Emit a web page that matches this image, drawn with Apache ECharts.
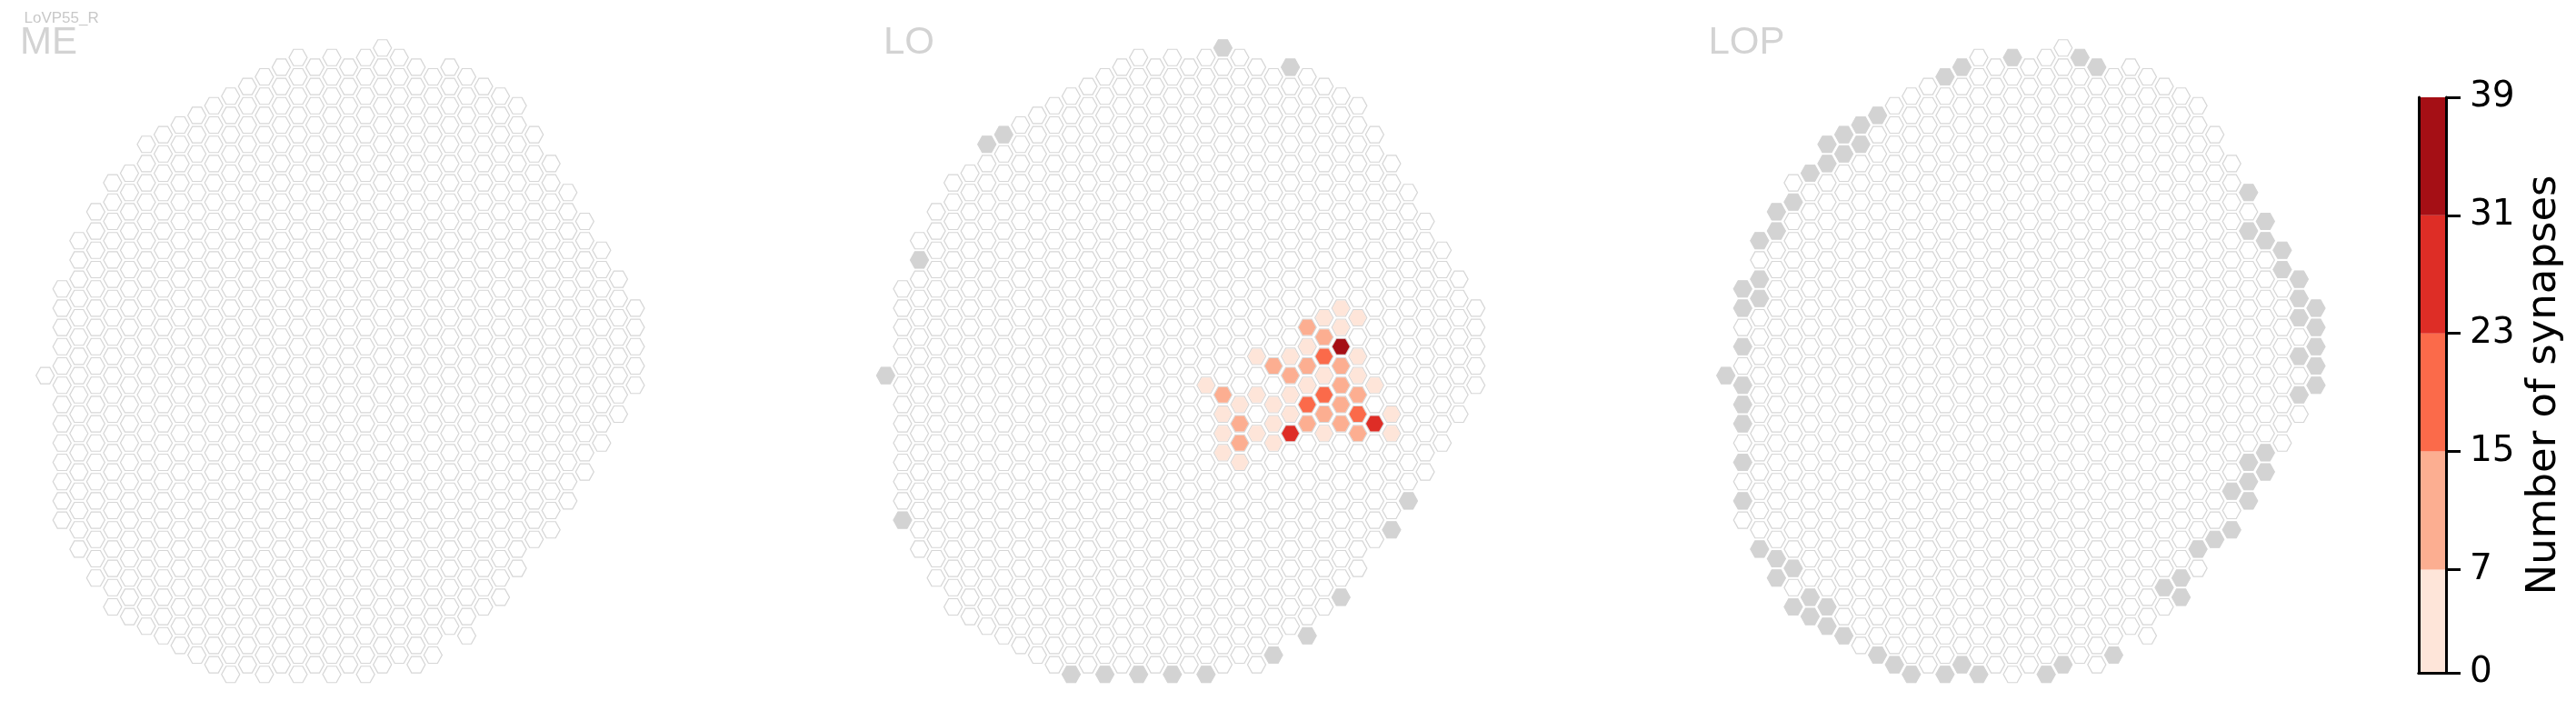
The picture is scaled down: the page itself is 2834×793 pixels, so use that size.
<!DOCTYPE html>
<html><head><meta charset="utf-8">
<script src="https://cdn.jsdelivr.net/npm/echarts@6/dist/echarts.min.js"></script>
<style>html,body{margin:0;padding:0;background:#fff}#c{width:2834px;height:793px}</style>
</head><body><div id="c"></div>
<script>
// ---- Column footprint shared by ME, LO, LOP (column index -> first / last half-row index)
const colTop    = [34,25,20,17,14,13,10, 9, 8, 7, 6, 5, 4, 3, 2, 1, 2, 1, 2, 1, 0, 1, 2, 3, 2, 3, 4, 5, 6, 9,12,15,18,21,24,27];
const colBottom = [34,49,52,55,58,59,60,61,62,63,64,65,64,65,64,65,64,65,64,65,64,63,64,63,60,61,58,57,54,51,50,47,44,41,38,35];

// ---- Region titles
const regionNames = ['ME', 'LO', 'LOP'];
const cellTypeName = 'LoVP55_R';

// ---- Columns drawn in grey (column, half-row)
const meGray = [];
const loGray = [[20,0],[24,2],[7,9],[6,10],[2,22],[0,34],[1,49],[31,47],[30,50],[27,57],[25,61],[23,63],
  [11,65],[13,65],[15,65],[17,65],[19,65]];
const lopGray = [[17,1],[21,1],[22,2],[14,2],[13,3],[9,7],[8,8],[7,9],[8,10],[6,10],[7,11],[6,12],[5,13],
  [4,16],[3,17],[3,19],[2,20],[2,24],[1,25],[2,26],[1,27],[1,31],[0,34],[1,35],[1,37],[1,39],[1,43],[1,47],
  [2,52],[3,53],[4,54],[3,55],[5,57],[4,58],[6,58],[5,59],[6,60],[7,61],[9,63],[10,64],[11,65],[13,65],
  [14,64],[15,65],[19,65],[20,64],[23,63],
  [31,15],[32,18],[31,19],[32,20],[33,21],[33,23],[34,24],[34,26],[35,27],[34,28],[35,29],[35,31],[34,32],
  [35,33],[35,35],[34,36],[32,42],[31,43],[32,44],[31,45],[30,46],[31,47],[30,50],[29,51],[28,52],[27,55],
  [26,56],[27,57]];

// ---- Synapse counts per column (column, half-row, count)
const meValues = [];
const loValues = [
  [27,27,4],[26,28,4],[28,28,4],[25,29,11],[27,29,4],[26,30,11],[25,31,4],[27,31,36],
  [22,32,4],[24,32,4],[26,32,19],[28,32,4],[23,33,11],[25,33,11],[27,33,11],
  [24,34,11],[26,34,4],[28,34,4],[19,35,4],[25,35,4],[27,35,11],[29,35,4],
  [20,36,11],[22,36,4],[24,36,4],[26,36,19],[28,36,11],
  [21,37,4],[23,37,4],[25,37,19],[27,37,11],
  [20,38,4],[24,38,4],[26,38,11],[28,38,19],[30,38,4],
  [21,39,11],[23,39,4],[25,39,11],[27,39,11],[29,39,27],
  [20,40,4],[22,40,4],[24,40,27],[26,40,4],[28,40,11],[30,40,4],
  [21,41,11],[23,41,4],[20,42,4],[21,43,4]];
const lopValues = [];

// ---- Colour bins / colorbar ticks
const binEdges  = [0, 7, 15, 23, 31, 39];
const binColors = ['#fee5d9', '#fcae91', '#fb6a4a', '#de2d26', '#a50f15'];
const cbTicks   = [0, 7, 15, 23, 31, 39];
const cbTitle   = 'Number of synapses';

// ---------------------------------------------------------------
const FONT = '"Liberation Sans", Arial, sans-serif';
const CBFONT = '"DejaVu Sans", sans-serif';
const HEX = 'path://M0,8.66L5,0L15,0L20,8.66L15,17.32L5,17.32Z';
function footprint() {
  const out = [];
  for (let c = 0; c < colTop.length; c++)
    for (let k = colTop[c]; k <= colBottom[c]; k += 2) out.push([c, k]);
  return out;
}
const cells = footprint();
const grays = [meGray, loGray, lopGray];
const vals = [meValues, loValues, lopValues];
const gridLefts = [31.15, 955.85, 1880.15];

const grid = [], xAxis = [], yAxis = [], series = [];
const coloredIdx = [];
regionNames.forEach((name, i) => {
  grid.push({left: gridLefts[i], top: 31.5, width: 686.35, height: 731.4});
  xAxis.push({gridIndex: i, type: 'value', min: -1, max: 36, show: false});
  yAxis.push({gridIndex: i, type: 'value', min: -2, max: 67, inverse: true, show: false});
  series.push({type: 'scatter', xAxisIndex: i, yAxisIndex: i, data: cells, symbol: HEX,
    symbolSize: [20, 18], silent: true, z: 1,
    itemStyle: {color: '#ffffff', borderColor: '#d6d6d6', borderWidth: 1.2, opacity: 1}});
  series.push({type: 'scatter', xAxisIndex: i, yAxisIndex: i, data: grays[i], symbol: HEX,
    symbolSize: [20, 18], silent: true, z: 2,
    itemStyle: {color: '#d3d3d3', borderColor: '#d3d3d3', borderWidth: 0.5, opacity: 1}});
  coloredIdx.push(series.length);
  series.push({type: 'scatter', xAxisIndex: i, yAxisIndex: i, data: vals[i], symbol: HEX,
    symbolSize: [19, 17], silent: true, z: 3, itemStyle: {opacity: 1}});
});

// colorbar
grid.push({left: 2661, top: 107, width: 30, height: 633});
xAxis.push({gridIndex: 3, type: 'category', data: [''], position: 'bottom', z: 10,
  axisLine: {show: true, lineStyle: {color: '#000', width: 3}}, axisTick: {show: false}, axisLabel: {show: false}});
xAxis.push({gridIndex: 3, type: 'category', data: [''], position: 'top', z: 10,
  axisLine: {show: true, lineStyle: {color: '#000', width: 3}}, axisTick: {show: false}, axisLabel: {show: false}});
yAxis.push({gridIndex: 3, type: 'value', min: binEdges[0], max: binEdges[binEdges.length-1], position: 'right', z: 10,
  axisLine: {show: true, lineStyle: {color: '#000', width: 3}},
  axisTick: {show: true, customValues: cbTicks, length: 16, lineStyle: {color: '#000', width: 3}},
  axisLabel: {show: true, customValues: cbTicks, fontSize: 39, color: '#000', margin: 26, fontFamily: CBFONT},
  splitLine: {show: false},
  name: cbTitle, nameLocation: 'middle', nameRotate: 90, nameGap: 86,
  nameTextStyle: {fontSize: 45, color: '#000', fontFamily: CBFONT}});
yAxis.push({gridIndex: 3, type: 'value', min: binEdges[0], max: binEdges[binEdges.length-1], position: 'left', z: 10,
  axisLine: {show: true, lineStyle: {color: '#000', width: 3}}, axisTick: {show: false},
  axisLabel: {show: false}, splitLine: {show: false}});
for (let b = 0; b < binColors.length; b++) {
  series.push({type: 'bar', xAxisIndex: 3, yAxisIndex: 3, stack: 'cb', barWidth: '100%', silent: true, z: 1,
    data: [binEdges[b+1] - binEdges[b]], itemStyle: {color: binColors[b], opacity: 1}});
}

const titles = [{text: cellTypeName, left: 26.5, top: 12, padding: 0,
  textStyle: {fontSize: 17, color: '#c8c8c8', fontWeight: 'normal', fontFamily: FONT}}];
const titleLefts = [22, 972, 1879.5];
regionNames.forEach((n, i) => titles.push({text: n, left: titleLefts[i], top: 26, padding: 0,
  textStyle: {fontSize: 42, color: '#d3d3d3', fontWeight: 'normal', fontFamily: FONT}}));

const pieces = binColors.map((col, b) => (b === binColors.length - 1)
  ? {gte: binEdges[b], lte: binEdges[b+1], color: col}
  : {gte: binEdges[b], lt: binEdges[b+1], color: col});

const chart = echarts.init(document.getElementById('c'), null, {renderer: 'canvas'});
chart.setOption({
  animation: false,
  backgroundColor: '#ffffff',
  title: titles,
  grid, xAxis, yAxis,
  visualMap: {type: 'piecewise', show: false, dimension: 2, seriesIndex: coloredIdx, pieces},
  series
});
</script></body></html>
